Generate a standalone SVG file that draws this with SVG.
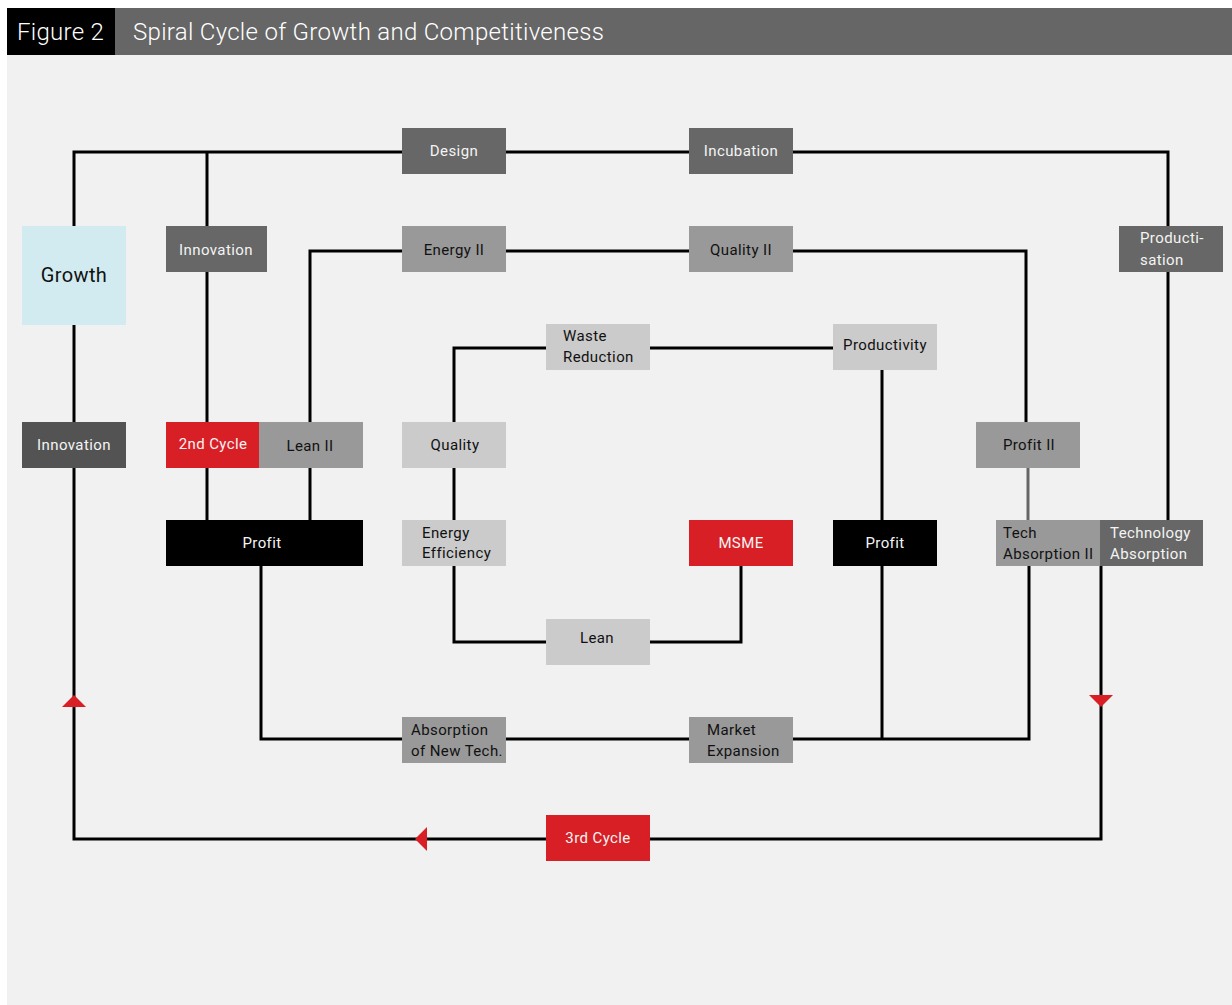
<svg xmlns="http://www.w3.org/2000/svg" width="1232" height="1005" viewBox="0 0 1232 1005">
<style>
.t{font-family:Roboto,"Liberation Sans",sans-serif;font-size:15px;font-weight:400;letter-spacing:0.4px}
.w{fill:#f4f4f4}
.k{fill:#111}
.c{text-anchor:middle}
.ln{fill:none;stroke:#000;stroke-width:3}
.dk{fill:#666766}
.dk2{fill:#535353}
.md{fill:#999999}
.lt{fill:#cbcbcb}
.rd{fill:#d81f26}
.bk{fill:#000}
.ar{fill:#d81f26}
</style>
<rect x="0" y="0" width="1232" height="1005" fill="#ffffff"/>
<rect x="7" y="55" width="1225" height="950" fill="#f1f1f1"/>
<g id="header">
<rect x="7" y="8" width="1225" height="47" fill="#666666"/>
<rect x="7" y="8" width="108" height="47" fill="#000"/>
<text x="17" y="40" font-family="Roboto,'Liberation Sans',sans-serif" font-size="24" font-weight="300" letter-spacing="0.3" fill="#fff">Figure 2</text>
<text x="133" y="40" font-family="Roboto,'Liberation Sans',sans-serif" font-size="24" font-weight="300" letter-spacing="0.3" fill="#fff">Spiral Cycle of Growth and Competitiveness</text>
</g>
<g id="connectors">
<path class="ln" d="M74,226 V152 H1168 V520"/>
<path class="ln" d="M207,152 V422"/>
<path class="ln" d="M74,325 V422"/>
<path class="ln" d="M74,468 V839 H1101 V566"/>
<path class="ln" d="M310,422 V251 H1026 V422"/>
<path class="ln" d="M207,468 V520 M310,468 V520"/>
<path class="ln" d="M261,566 V739 H1029 V566"/>
<path d="M1028,468 V520" fill="none" stroke="#666" stroke-width="3"/>
<path class="ln" d="M882,370 V520 M882,566 V739"/>
<path class="ln" d="M454,422 V348 H833"/>
<path class="ln" d="M454,468 V520"/>
<path class="ln" d="M454,566 V642 H741 V566"/>
<polygon class="ar" points="62,707 86,707 74,695"/>
<polygon class="ar" points="415,839 427,827 427,851"/>
<polygon class="ar" points="1089,695 1113,695 1101,707"/>
</g>
<g id="growth"><rect x="22" y="226" width="104" height="99" fill="#d2ebf0"/><text class="t c k" x="74" y="282" style="font-size:20px">Growth</text></g>
<g id="design"><rect class="dk" x="402" y="128" width="104" height="46"/><text class="t c w" x="454" y="156">Design</text></g>
<g id="incubation"><rect class="dk" x="689" y="128" width="104" height="46"/><text class="t c w" x="741" y="156">Incubation</text></g>
<g id="innovation-top"><rect class="dk" x="166" y="226" width="101" height="46"/><text class="t c w" x="216" y="255">Innovation</text></g>
<g id="energy2"><rect class="md" x="402" y="226" width="104" height="46"/><text class="t c k" x="454" y="255">Energy II</text></g>
<g id="quality2"><rect class="md" x="689" y="226" width="104" height="46"/><text class="t c k" x="741" y="255">Quality II</text></g>
<g id="productisation"><rect class="dk" x="1119" y="226" width="104" height="46"/><text class="t w" x="1140" y="243">Producti-</text><text class="t w" x="1140" y="265">sation</text></g>
<g id="waste"><rect class="lt" x="546" y="324" width="104" height="46"/><text class="t k" x="563" y="341">Waste</text><text class="t k" x="563" y="362">Reduction</text></g>
<g id="productivity"><rect class="lt" x="833" y="324" width="104" height="46"/><text class="t c k" x="885" y="350">Productivity</text></g>
<g id="innovation-left"><rect class="dk2" x="22" y="422" width="104" height="46"/><text class="t c w" x="74" y="450">Innovation</text></g>
<g id="cycle2"><rect class="rd" x="166" y="422" width="93" height="46"/><text class="t c w" x="213" y="449">2nd Cycle</text></g>
<g id="lean2"><rect class="md" x="259" y="422" width="104" height="46"/><text class="t c k" x="310" y="451">Lean II</text></g>
<g id="quality"><rect class="lt" x="402" y="422" width="104" height="46"/><text class="t c k" x="455" y="450">Quality</text></g>
<g id="profit2"><rect class="md" x="976" y="422" width="104" height="46"/><text class="t c k" x="1029" y="450">Profit II</text></g>
<g id="profit-left"><rect class="bk" x="166" y="520" width="197" height="46"/><text class="t c w" x="262" y="548">Profit</text></g>
<g id="energy-eff"><rect class="lt" x="402" y="520" width="104" height="46"/><text class="t k" x="422" y="538">Energy</text><text class="t k" x="422" y="558">Efficiency</text></g>
<g id="msme"><rect class="rd" x="689" y="520" width="104" height="46"/><text class="t c w" x="741" y="548">MSME</text></g>
<g id="profit-mid"><rect class="bk" x="833" y="520" width="104" height="46"/><text class="t c w" x="885" y="548">Profit</text></g>
<g id="tech-abs2"><rect class="md" x="996" y="520" width="104" height="46"/><text class="t k" x="1003" y="538">Tech</text><text class="t k" x="1003" y="559">Absorption II</text></g>
<g id="tech-abs"><rect class="dk" x="1100" y="520" width="103" height="46"/><text class="t w" x="1110" y="538">Technology</text><text class="t w" x="1110" y="559">Absorption</text></g>
<g id="lean"><rect class="lt" x="546" y="619" width="104" height="46"/><text class="t c k" x="597" y="643">Lean</text></g>
<g id="absorption-new"><rect class="md" x="402" y="717" width="104" height="46"/><text class="t k" x="411" y="735">Absorption</text><text class="t k" x="411" y="756">of New Tech.</text></g>
<g id="market"><rect class="md" x="689" y="717" width="104" height="46"/><text class="t k" x="707" y="735">Market</text><text class="t k" x="707" y="756">Expansion</text></g>
<g id="cycle3"><rect class="rd" x="546" y="815" width="104" height="46"/><text class="t c w" x="598" y="843">3rd Cycle</text></g>
</svg>
